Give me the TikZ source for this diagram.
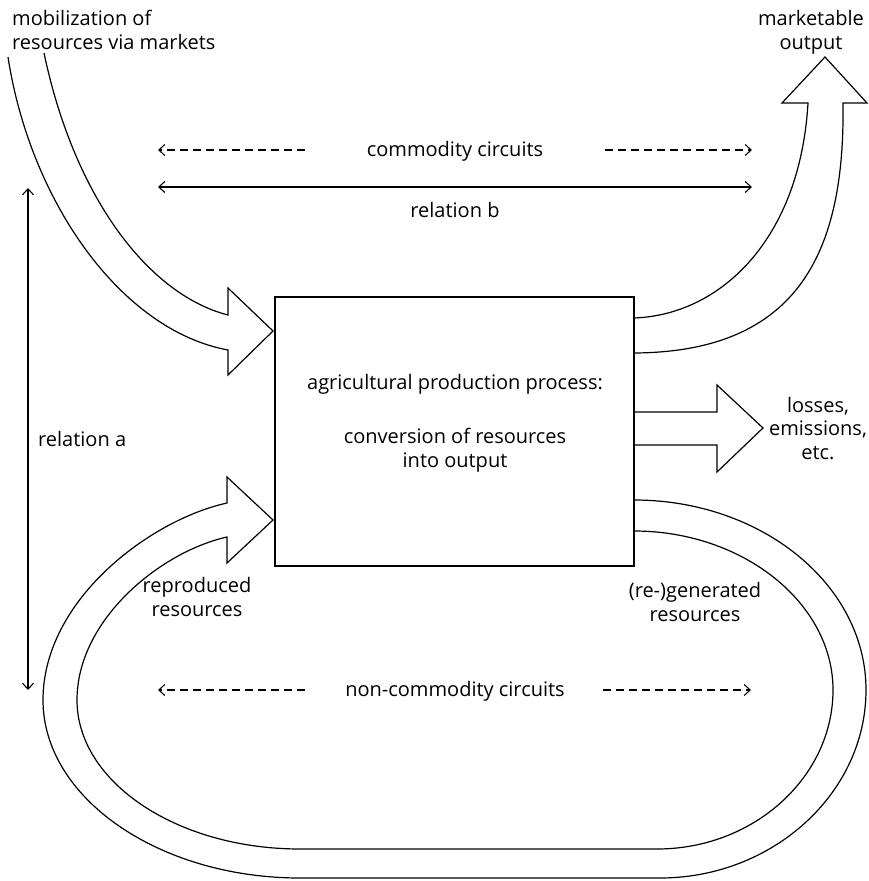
\documentclass[tikz,border=0pt]{standalone}
\usepackage{fontspec}
\setmainfont{Open Sans}
\usetikzlibrary{arrows.meta}
\begin{document}
\begin{tikzpicture}[x=1pt,y=-1pt,
  lbl/.style={font=\fontsize{20}{23.5}\selectfont, align=center, inner sep=0pt},
  band/.style={draw=black, line width=1.2pt, line join=miter},
  rel/.style={draw=black, line width=1.1pt, {Straight Barb[length=6pt,width=11pt]}-{Straight Barb[length=6pt,width=11pt]}},
  circ/.style={draw=black, line width=1.1pt, dash pattern=on 8pt off 5pt, -{Straight Barb[length=6pt,width=11pt]}}
]
\useasboundingbox (0,0) rectangle (869,881);
\fill[white] (0,0) rectangle (869,881);

% production process box
\node (proc) [draw, line width=2pt, minimum width=359pt, minimum height=269pt, inner sep=0pt] at (454.5,431.5) {};
\node (t1) [lbl, anchor=base] at (455,389) {agricultural production process:};
\node (t2) [lbl, anchor=base] at (455,467) {conversion of resources\\into output};

% named attachment points on the box
\coordinate (inA) at (273,331);
\coordinate (inB) at (273,520);
\coordinate (outM1) at (634,318);
\coordinate (outM2) at (634,353);
\coordinate (outL1) at (634,412);
\coordinate (outL2) at (634,445);
\coordinate (outR1) at (634,500);
\coordinate (outR2) at (634,531);

% mobilization of resources via markets
\draw[band] (8,57) .. controls (30,200) and (120,330) .. (228,350) -- (228,375) -- (inA)
  -- (228,288) -- (228,315) .. controls (150,295) and (75,200) .. (44,53);
\node (mob) [lbl, align=left, anchor=base west] at (12,49) {mobilization of\\resources via markets};

% marketable output
\draw[band] (outM1) .. controls (720,315) and (800,240) .. (808,103) -- (782,103) -- (825,57)
  -- (867,103) -- (843,103) .. controls (845,250) and (800,352) .. (outM2);
\node (mkt) [lbl, anchor=base] at (811,49) {marketable\\output};

% losses, emissions
\draw[band] (outL1) -- (717,412) -- (717,385) -- (763,428) -- (717,472) -- (717,445) -- (outL2);
\node (loss) [lbl, anchor=base] at (818,459) {losses,\\emissions,\\etc.};

% reproduction loop
\draw[band] (outR1) .. controls (762,500) and (866,585) .. (866,690)
  .. controls (866,793) and (773,878) .. (660,878) -- (300,878)
  .. controls (159,878) and (43,798) .. (43,700)
  .. controls (43,600) and (150,520) .. (227,503) -- (227,477) -- (inB) -- (227,563) -- (227,537)
  .. controls (160,552) and (77,620) .. (77,700)
  .. controls (77,782) and (177,849) .. (300,849) -- (657,849)
  .. controls (754,849) and (833,777) .. (833,690)
  .. controls (833,603) and (743,531) .. (outR2);
\node (rep) [lbl, anchor=base] at (197,616) {reproduced\\resources};
\node (gen) [lbl, anchor=base] at (695,621) {(re-)generated\\resources};

% relations
\coordinate (ra1) at (28,188);
\coordinate (ra2) at (28,690);
\draw[rel] (ra1) -- (ra2);
\node (rela) [lbl, anchor=base west] at (38,446) {relation a};

\coordinate (rb1) at (158,187);
\coordinate (rb2) at (752,187);
\draw[rel] (rb1) -- (rb2);
\node (relb) [lbl, anchor=base] at (455,217) {relation b};

% commodity circuits
\node (cc) [lbl, anchor=base] at (455,156) {commodity circuits};
\coordinate (cc1) at (158,150);
\coordinate (cc2) at (305,150);
\coordinate (cc3) at (605,150);
\coordinate (cc4) at (752,150);
\draw[circ] (cc2) -- (cc1);
\draw[circ] (cc3) -- (cc4);

% non-commodity circuits
\node (nc) [lbl, anchor=base] at (455,696) {non-commodity circuits};
\coordinate (nc1) at (158,690);
\coordinate (nc2) at (305,690);
\coordinate (nc3) at (603,690);
\coordinate (nc4) at (751,690);
\draw[circ] (nc2) -- (nc1);
\draw[circ] (nc3) -- (nc4);
\end{tikzpicture}
\end{document}
